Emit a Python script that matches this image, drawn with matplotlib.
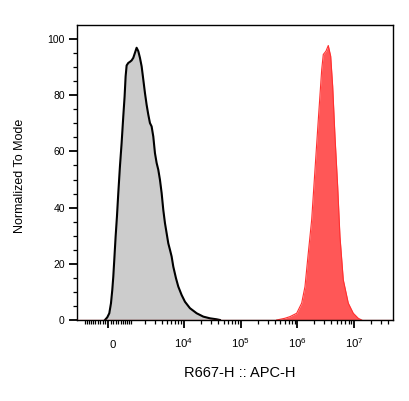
import numpy as np
import matplotlib
matplotlib.use('Agg')
import matplotlib.pyplot as plt
from matplotlib.ticker import FixedLocator, NullFormatter
from matplotlib.transforms import ScaledTranslation

plt.rcParams['font.family'] = ['Liberation Sans', 'DejaVu Sans']
plt.rcParams['mathtext.fontset'] = 'custom'
plt.rcParams['mathtext.rm'] = 'Liberation Sans'
plt.rcParams['mathtext.it'] = 'Liberation Sans'

# ---- data (APC-H intensity vs % of mode) ----
gray_x = [-112, -25, 50, 112, 162, 200, 238, 290, 342, 396, 464, 535, 608, 668, 715, 763,
          846, 932, 1023, 1117, 1218, 1324, 1436, 1555, 1681, 1814, 1956, 2107, 2267, 2438,
          2620, 2814, 3021, 3242, 3476, 3729, 3998, 4284, 4591, 4919, 5268, 5644, 6045,
          6471, 7218, 7940, 9100, 10426, 12780, 16770, 21990, 28820, 37800, 43250]
gray_y = [0, 0.95, 2.4, 5.9, 10.7, 15.4, 21.4, 29.7, 36.8, 45.2, 54.7, 63.0, 72.5, 79.6,
          86.7, 90.6, 91.5, 91.9, 92.4, 93.3, 95.1, 96.9, 95.7, 93.3, 90.3, 85.6, 80.8,
          76.6, 73.1, 70.1, 68.9, 65.3, 59.4, 55.9, 53.5, 49.9, 45.2, 39.2, 34.5, 30.9,
          27.3, 25.0, 22.6, 19.0, 14.9, 11.9, 8.9, 6.5, 4.2, 2.4, 1.2, 0.6, 0.25, 0]

red_x = [433000, 600000, 742600, 974600, 1194000, 1365000, 1561000, 1792000, 2049000,
         2345000, 2692000, 2870000, 3204000, 3516000, 3878000, 4205000, 4620000, 5152000,
         5655000, 6471000, 7927000, 9712000, 11898000, 13642000]
red_y = [0, 0.6, 1.2, 2.4, 6.0, 11.9, 23.8, 35.7, 53.5, 71.3, 89.1, 94.5, 95.7, 97.7,
         93.9, 83.2, 65.3, 47.5, 29.7, 14.3, 6.0, 2.4, 0.6, 0]

x_major = [0, 1e4, 1e5, 1e6, 1e7]
x_major_labels = ['0', r'$10^4$', r'$10^5$', r'$10^6$', r'$10^7$']
y_major = [0, 20, 40, 60, 80, 100]

# biexponential-like display (arcsinh)
W = 916.0
def fwd(x):
    return np.arcsinh(np.asarray(x) / W) / np.log(10)
def inv(y):
    return W * np.sinh(np.asarray(y) * np.log(10))

fig = plt.figure(figsize=(4.09, 4.01), dpi=100)
ax = fig.add_axes([77/409, 81/401, 316/409, 295/401])
ax.set_xscale('function', functions=(fwd, inv))

ax.fill_between(gray_x, gray_y, 0, color='#cccccc', lw=0, zorder=1)
ax.plot(gray_x, gray_y, color='black', lw=1.5, zorder=2, solid_joinstyle='round')
ax.fill_between(red_x, red_y, 0, color='#ff5757', lw=0, zorder=1)
ax.plot(red_x, red_y, color='#ff3030', lw=0.8, zorder=2)
ax.axhline(0, color='#c03030', lw=0.9, zorder=3)

ax.set_xlim(-1479, 4.87e7)
ax.set_ylim(0, 105)

# ticks
minors = list(np.arange(-1000, 1001, 100))
for e in range(3, 8):
    minors += [k * 10**e for k in range(2, 10)]
minors = [m for m in minors if m != 0 and -1479 <= m <= 4.87e7]
ax.xaxis.set_major_locator(FixedLocator(x_major))
ax.set_xticklabels(x_major_labels)
ax.xaxis.set_minor_locator(FixedLocator(minors))
ax.xaxis.set_minor_formatter(NullFormatter())
ax.set_yticks(y_major)
ax.yaxis.set_minor_locator(FixedLocator(list(range(5, 105, 5))))

ax.tick_params(axis='both', which='major', direction='out', length=5.8, width=1.3,
               colors='black')
ax.tick_params(axis='x', which='major', labelsize=8.2, pad=14)
ax.tick_params(axis='y', which='major', labelsize=7.5, pad=3)
ax.tick_params(axis='both', which='minor', direction='out', length=3.2, width=0.9)
for lbl in ax.get_xticklabels():
    lbl.set_va('baseline')
zero_lbl = ax.get_xticklabels()[0]
zero_lbl.set_transform(zero_lbl.get_transform() + ScaledTranslation(5/100, 0, fig.dpi_scale_trans))

for s in ax.spines.values():
    s.set_linewidth(1.0)
    s.set_color('black')

fig.text(240/409, 1 - 377/401, 'R667-H :: APC-H', ha='center', va='baseline', fontsize=10.5)
fig.text(20.5/409, 1 - 176/401, 'Normalized To Mode', ha='center', va='center',
         rotation=90, fontsize=9)

fig.savefig('out.png', dpi=100)
